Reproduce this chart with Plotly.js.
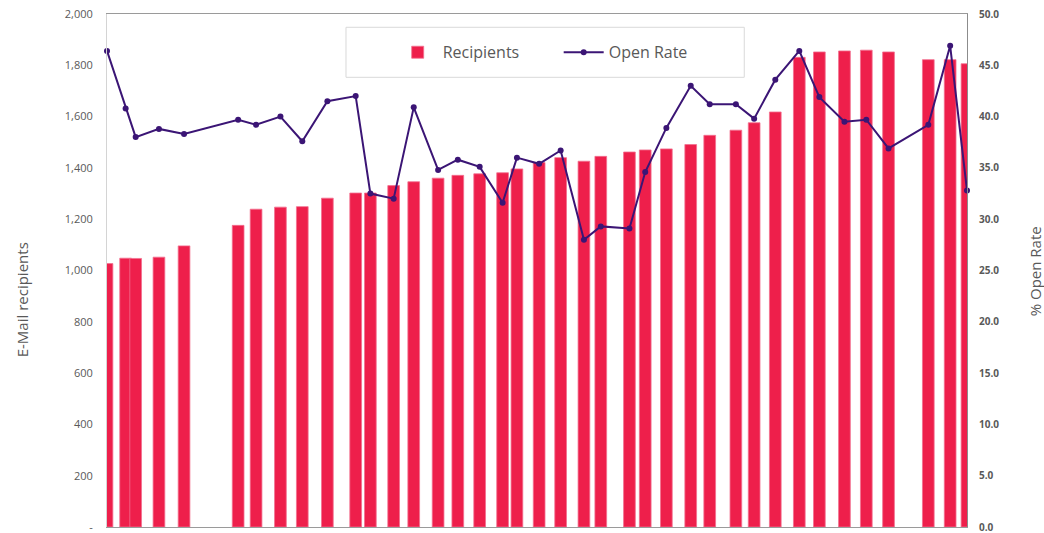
<!DOCTYPE html>
<html>
<head>
<meta charset="utf-8">
<script src="https://cdn.plot.ly/plotly-3.0.1.min.js"></script>
<style>html,body{margin:0;padding:0;background:#fff;}#chart{width:1044px;height:533px;}</style>
</head>
<body>
<div id="chart"></div>
<script>
// Send day (days from first mailing)
const sendDay = [0, 5.2, 8.0, 14.5, 21.5, 36.6, 41.6, 48.4, 54.5, 61.5,
  69.4, 73.5, 80.0, 85.6, 92.4, 97.9, 104.0, 110.4, 114.4, 120.6,
  126.6, 133.1, 137.8, 145.8, 150.2, 156.1, 162.9, 168.2, 175.5, 180.6,
  186.5, 193.2, 198.8, 205.8, 211.9, 218.1, 229.2, 235.3, 240];
const recipients = [1027, 1048, 1047, 1052, 1096, 1176, 1239, 1247, 1249, 1282,
  1302, 1302, 1331, 1346, 1360, 1371, 1377, 1381, 1396, 1421,
  1440, 1426, 1445, 1462, 1470, 1474, 1491, 1527, 1547, 1576,
  1618, 1831, 1852, 1856, 1859, 1852, 1822, 1822, 1806];
const openRate = [46.4, 40.8, 38.0, 38.8, 38.3, 39.7, 39.2, 40.0, 37.6, 41.5,
  42.0, 32.5, 32.0, 40.9, 34.8, 35.8, 35.1, 31.6, 36.0, 35.4,
  36.7, 28.0, 29.3, 29.1, 34.6, 38.9, 43.0, 41.2, 41.2, 39.8,
  43.6, 46.4, 41.9, 39.5, 39.7, 36.9, 39.2, 46.9, 32.8];
const leftTickVals = [0, 200, 400, 600, 800, 1000, 1200, 1400, 1600, 1800, 2000];
const leftTickText = ['-', '200', '400', '600', '800', '1,000', '1,200', '1,400', '1,600', '1,800', '2,000'];
const rightTickVals = [0, 5, 10, 15, 20, 25, 30, 35, 40, 45, 50];
const rightTickText = ['0.0', '5.0', '10.0', '15.0', '20.0', '25.0', '30.0', '35.0', '40.0', '45.0', '50.0'];

const seriesNames = ['Recipients', 'Open Rate'];
const axisTitles = ['E-Mail recipients', '% Open Rate'];

const FONT = '"Open Sans", "Noto Sans", sans-serif';
const GREY = '#595959';

const traces = [
  {
    type: 'bar', name: seriesNames[0], x: sendDay, y: recipients,
    width: 3.27,
    marker: {color: '#ee1f4b', line: {color: '#f3708f', width: 0.8}},
    yaxis: 'y', hoverinfo: 'skip'
  },
  {
    type: 'scatter', mode: 'lines+markers', name: seriesNames[1], x: sendDay, y: openRate,
    line: {color: '#3b1575', width: 2},
    marker: {color: '#3b1575', size: 6, symbol: 'circle'},
    yaxis: 'y2', cliponaxis: false, hoverinfo: 'skip'
  }
];

const layout = {
  width: 1044, height: 533,
  margin: {l: 107, r: 77, t: 14, b: 6, pad: 0},
  paper_bgcolor: '#ffffff', plot_bgcolor: '#ffffff',
  font: {family: FONT, color: GREY},
  showlegend: true,
  legend: {
    orientation: 'h', x: 0.3322, xanchor: 'left', y: 0.9253, yanchor: 'middle',
    bgcolor: 'rgba(0,0,0,0)', borderwidth: 0, itemwidth: 40,
    font: {family: FONT, size: 16, color: GREY},
    entrywidth: 111, entrywidthmode: 'pixels'
  },
  xaxis: {
    range: [0, 240], showticklabels: false, ticks: '', showgrid: false, zeroline: false,
    showline: true, mirror: true, linecolor: '#9a9a9a', linewidth: 1, fixedrange: true
  },
  yaxis: {
    range: [0, 2000], tickvals: leftTickVals, ticktext: leftTickText,
    tickfont: {family: FONT, size: 11, color: GREY}, ticks: '', ticklabelstandoff: 11,
    ticklabeloverflow: 'allow',
    showgrid: false, zeroline: false, showline: true, linecolor: '#d4d4d4', linewidth: 1,
    fixedrange: true
  },
  yaxis2: {
    range: [0, 50], overlaying: 'y', side: 'right', tickvals: rightTickVals, ticktext: rightTickText,
    tickfont: {family: FONT, size: 10, color: GREY, weight: 'bold'}, ticks: '', ticklabelstandoff: 9,
    ticklabeloverflow: 'allow',
    showgrid: false, zeroline: false, showline: true, linecolor: '#8c8c8c', linewidth: 1,
    fixedrange: true
  },
  shapes: [
    {type: 'rect', xref: 'paper', yref: 'paper', x0: 0.2779, x1: 0.7410, y0: 0.8766, y1: 0.9741,
     line: {color: '#d9d9d9', width: 1}, fillcolor: '#ffffff', layer: 'below'}
  ],
  annotations: [
    {text: axisTitles[0], xref: 'paper', yref: 'paper', x: -0.0985, y: 0.4425, textangle: -90,
     showarrow: false, font: {family: FONT, size: 15, color: GREY}, xanchor: 'center', yanchor: 'middle'},
    {text: axisTitles[1], xref: 'paper', yref: 'paper', x: 1.0794, y: 0.499, textangle: -90,
     showarrow: false, font: {family: FONT, size: 15, color: GREY}, xanchor: 'center', yanchor: 'middle'}
  ]
};

Plotly.newPlot('chart', traces, layout, {displayModeBar: false, staticPlot: true});
</script>
</body>
</html>
